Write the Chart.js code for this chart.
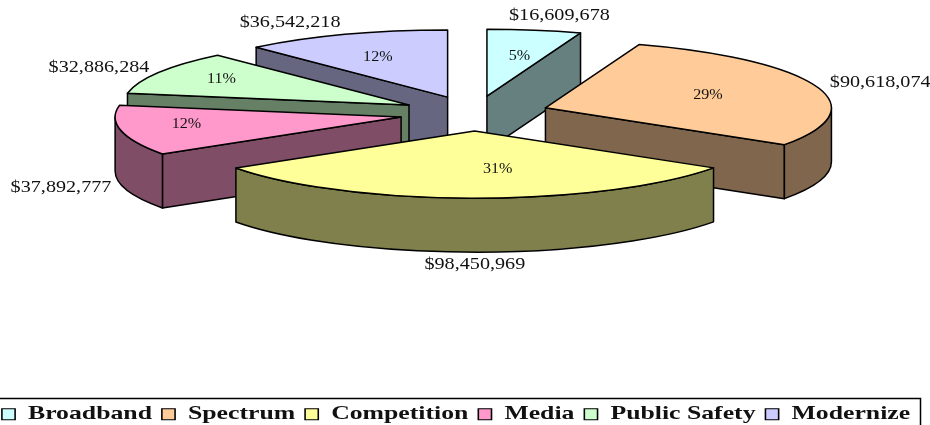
<!DOCTYPE html>
<html><head><meta charset="utf-8">
<style>html,body{margin:0;padding:0;background:#fff}canvas{display:block}</style>
<script src="https://cdn.jsdelivr.net/npm/chart.js@4"></script></head>
<body><canvas id="c" width="930" height="425"></canvas>
<script>
const categories = ['Broadband','Spectrum','Competition','Media','Public Safety','Modernize'];
const amounts = [16609678,90618074,98450969,37892777,32886284,36542218];
const topColors = ['#CCFFFF','#FFCC99','#FFFF99','#FF99CC','#CCFFCC','#CCCCFF'];
const sideColors = ['#668080','#80664D','#80804D','#804D66','#668066','#666680'];

const pie3d = {cx:474.5, cy:113.5, rx:286, ry:67, depth:54, explode:0.262, line:1.5};
const pctReach = [.62,.6,.55,.77,.75,.7];
const pctNudgeX = [3,0,23,1,0,2];
const pctNudgeY = [1,0,1,-3,-1,4];
const valueNudgeX = [25,64,0,-60,-60,-55];
const valueNudgeY = [-14,-3.5,67,57,-5,-12];
const legendFrame = {top:398.5, right:920, scaleX:1.32, shiftX:-8, shiftY:9};

const money = v => '$' + v.toLocaleString('en-US');
const total = amounts.reduce((a,b)=>a+b,0);

function stretched(ctx, text, x, y, size, sx){
  ctx.save();
  ctx.translate(x,y); ctx.scale(sx,1);
  ctx.font = size+'px "Liberation Serif"';
  ctx.textAlign='center'; ctx.textBaseline='middle'; ctx.fillStyle='#111';
  ctx.fillText(text,0,0);
  ctx.restore();
}

const plugin = {
  id:'pie3d',
  beforeDraw(chart){
    const c=chart.ctx, f=legendFrame;
    c.save();
    c.setTransform(f.scaleX,0,0,1,f.shiftX,f.shiftY);
  },
  beforeDatasetsDraw(chart){ chart.ctx.restore(); },
  beforeDatasetDraw(chart,args){
    const ctx=chart.ctx, P=pie3d;
    const arcs=args.meta.data;
    const geo=arcs.map((el,i)=>{
      const mid=(el.startAngle+el.endAngle)/2;
      return {el,i,mid,a0:el.startAngle,a1:el.endAngle,
        tx:P.cx+Math.cos(mid)*P.explode*P.rx,
        ty:P.cy+Math.sin(mid)*P.explode*P.ry};
    });
    const order=[...geo].sort((a,b)=>Math.sin(a.mid)-Math.sin(b.mid));
    ctx.save();
    ctx.lineWidth=P.line; ctx.strokeStyle='#000'; ctx.lineJoin='round';
    for(const g of order){
      const pt=a=>[g.tx+P.rx*Math.cos(a), g.ty+P.ry*Math.sin(a)];
      const face=a=>{
        const [x,y]=pt(a);
        ctx.beginPath();
        ctx.moveTo(g.tx,g.ty); ctx.lineTo(x,y);
        ctx.lineTo(x,y+P.depth); ctx.lineTo(g.tx,g.ty+P.depth);
        ctx.closePath();
        ctx.fillStyle=sideColors[g.i]; ctx.fill(); ctx.stroke();
      };
      if(Math.cos(g.a0)<-1e-6) face(g.a0);
      if(Math.cos(g.a1)>1e-6) face(g.a1);
      // outer wall: the part of the rim on the near half of the ellipse
      for(const k of [0,2]){
        const lo=Math.max(g.a0,k*Math.PI), hi=Math.min(g.a1,(k+1)*Math.PI);
        if(hi>lo){
          const [x1,y1]=pt(hi);
          ctx.beginPath();
          ctx.ellipse(g.tx,g.ty,P.rx,P.ry,0,lo,hi);
          ctx.lineTo(x1,y1+P.depth);
          ctx.ellipse(g.tx,g.ty+P.depth,P.rx,P.ry,0,hi,lo,true);
          ctx.closePath();
          ctx.fillStyle=sideColors[g.i]; ctx.fill(); ctx.stroke();
        }
      }
      // top face through the library's arc element
      const R=g.el.outerRadius;
      ctx.save();
      ctx.translate(g.tx,g.ty);
      ctx.scale(P.rx/R,P.ry/R);
      ctx.translate(-g.el.x,-g.el.y);
      g.el.draw(ctx);
      ctx.restore();
      ctx.beginPath();
      ctx.moveTo(g.tx,g.ty);
      ctx.ellipse(g.tx,g.ty,P.rx,P.ry,0,g.a0,g.a1);
      ctx.closePath();
      ctx.stroke();
    }
    ctx.restore();
    for(const g of geo){
      const c=Math.cos(g.mid), s=Math.sin(g.mid), f=pctReach[g.i];
      const pct=Math.round(amounts[g.i]/total*100)+'%';
      stretched(ctx,pct,g.tx+c*P.rx*f+pctNudgeX[g.i],g.ty+s*P.ry*f+pctNudgeY[g.i],14,1.15);
      stretched(ctx,money(amounts[g.i]),g.tx+c*P.rx+valueNudgeX[g.i],g.ty+s*P.ry+valueNudgeY[g.i],16,1.26);
    }
    return false;
  },
  afterDraw(chart){
    const c=chart.ctx, f=legendFrame;
    c.save();
    c.strokeStyle='#000'; c.lineWidth=1.5;
    c.strokeRect(-2,f.top,f.right+2.5,60);
    c.restore();
  }
};

new Chart(document.getElementById('c'),{
  type:'pie',
  data:{labels:categories,datasets:[{data:amounts,backgroundColor:topColors,borderWidth:0}]},
  plugins:[plugin],
  options:{
    responsive:false,animation:false,
    plugins:{
      tooltip:{enabled:false},
      legend:{
        position:'bottom',align:'start',
        labels:{
          boxWidth:10,boxHeight:11,padding:7.5,color:'#111',
          font:{family:'"Liberation Serif"',size:19.5,weight:'bold'},
          generateLabels(chart){
            return Chart.overrides.doughnut.plugins.legend.labels.generateLabels(chart)
              .map(l=>({...l,strokeStyle:'#000',lineWidth:1.2}));
          }
        }
      }
    }
  }
});
</script></body></html>
